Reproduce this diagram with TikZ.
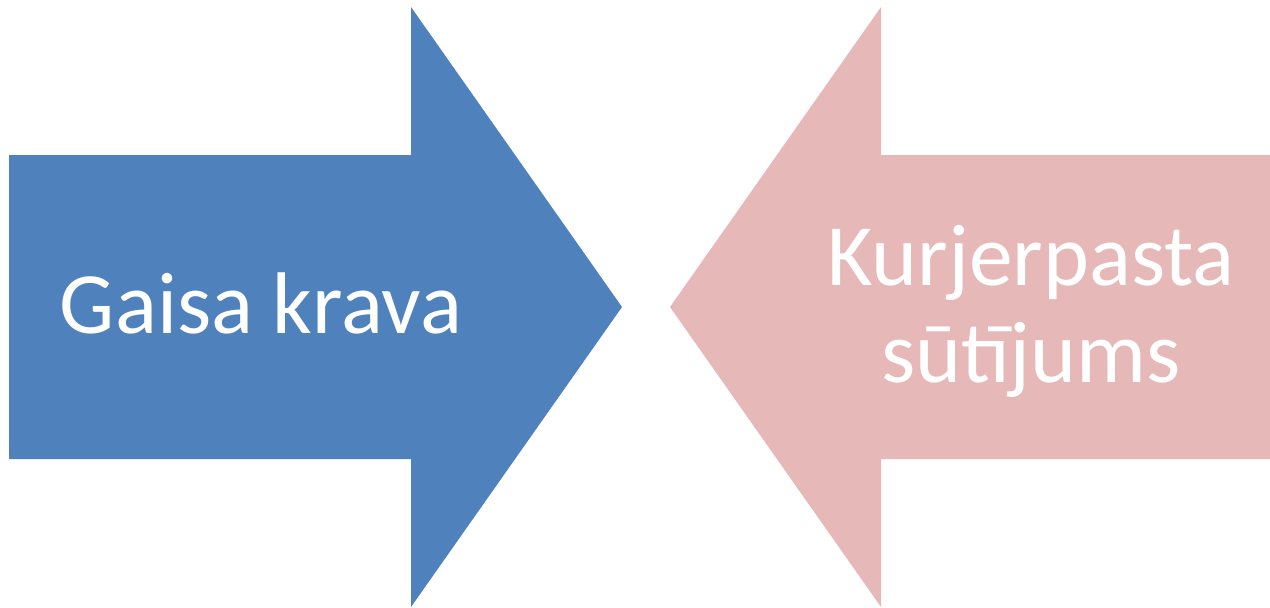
\documentclass[tikz,border=0pt]{standalone}
\usepackage{fontspec}
\setmainfont{Carlito}
\definecolor{arrowblue}{HTML}{4F81BD}
\definecolor{arrowpink}{HTML}{E6B9B8}
\begin{document}
\begin{tikzpicture}[x=1pt,y=-1pt,
  label/.style={text=white,font=\fontsize{87.5}{97}\selectfont,inner sep=0pt}]
\useasboundingbox (0,0) rectangle (1270,608);
\fill[arrowblue] (9,155) -- (411,155) -- (411,7) -- (622,307) -- (411,607) -- (411,459) -- (9,459) -- cycle;
\fill[arrowpink] (1270,155) -- (881,155) -- (881,7) -- (670,307) -- (881,607) -- (881,459) -- (1270,459) -- cycle;
\node[label,anchor=base] (gaisa) at (261,333) {Gaisa krava};
\node[label,anchor=base] (kurjer) at (1031,285) {Kurjerpasta};
\node[label,anchor=base] (sutijums) at (1031,382) {sūtījums};
\end{tikzpicture}
\end{document}
